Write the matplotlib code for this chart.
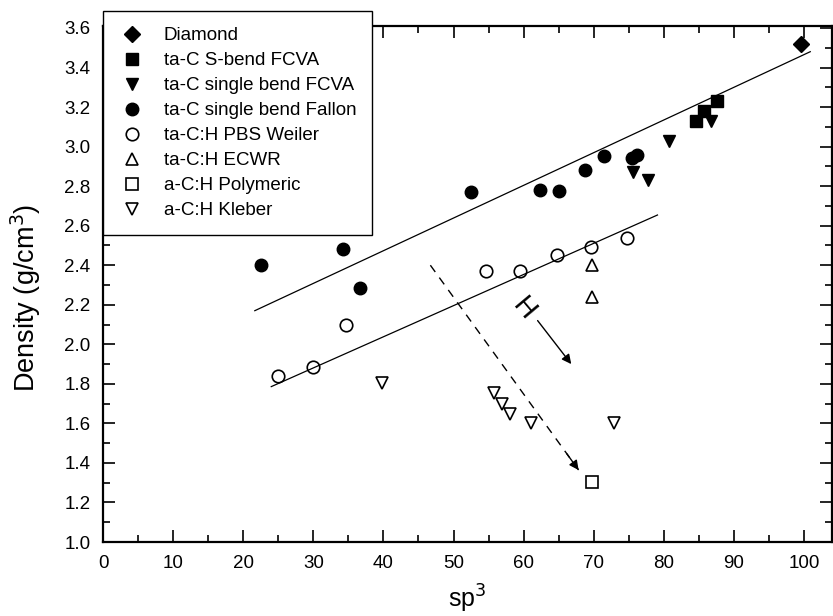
import matplotlib
matplotlib.use("Agg")
import matplotlib.pyplot as plt
from matplotlib.ticker import MultipleLocator

plt.rcParams['font.family'] = ['Liberation Sans', 'DejaVu Sans']

# density vs sp3 fraction for the different carbon film families
diamond_x = [99.6]
diamond_y = [3.52]

sbend_x = [87.6, 85.7, 84.6]
sbend_y = [3.23, 3.18, 3.13]

single_fcva_x = [86.7, 80.7, 75.6, 77.7]
single_fcva_y = [3.13, 3.03, 2.87, 2.83]

fallon_x = [22.5, 34.3, 36.7, 52.5, 62.3, 65.0, 68.7, 71.5, 75.4, 76.2]
fallon_y = [2.40, 2.48, 2.285, 2.77, 2.78, 2.775, 2.88, 2.95, 2.94, 2.96]

weiler_x = [24.9, 30.0, 34.7, 54.6, 59.5, 64.7, 69.6, 74.7]
weiler_y = [1.84, 1.887, 2.10, 2.37, 2.37, 2.45, 2.49, 2.54]

ecwr_x = [69.8, 69.7]
ecwr_y = [2.40, 2.24]

polymeric_x = [69.8]
polymeric_y = [1.305]

kleber_x = [39.8, 55.8, 56.9, 58.0, 61.0, 72.9]
kleber_y = [1.806, 1.755, 1.70, 1.65, 1.60, 1.60]

# guide lines
upper_fit_x = [21.65, 100.9]
upper_fit_y = [2.17, 3.48]
lower_fit_x = [24.0, 79.1]
lower_fit_y = [1.786, 2.654]

# hydrogen trend arrows
dash_arrow_x = [46.7, 67.85]
dash_arrow_y = [2.40, 1.364]
h_arrow_x = [62.0, 66.8]
h_arrow_y = [2.12, 1.90]
h_label_pos = (60.0, 2.18)

fig = plt.figure(figsize=(8.33, 6.16), dpi=100)
ax = fig.add_axes([0.1237, 0.1201, 0.8751, 0.8377])

ms = 9
mew = 1.2
ax.plot(diamond_x, diamond_y, 'D', color='black', ms=8, ls='', label='Diamond')
ax.plot(sbend_x, sbend_y, 's', color='black', ms=ms, ls='', label='ta-C S-bend FCVA')
ax.plot(single_fcva_x, single_fcva_y, 'v', color='black', ms=ms, ls='', label='ta-C single bend FCVA')
ax.plot(fallon_x, fallon_y, 'o', color='black', ms=ms, ls='', label='ta-C single bend Fallon')
ax.plot(weiler_x, weiler_y, 'o', mfc='none', mec='black', mew=mew, ms=ms, ls='', label='ta-C:H PBS Weiler')
ax.plot(ecwr_x, ecwr_y, '^', mfc='none', mec='black', mew=mew, ms=ms, ls='', label='ta-C:H ECWR')
ax.plot(polymeric_x, polymeric_y, 's', mfc='none', mec='black', mew=mew, ms=8, ls='', label='a-C:H Polymeric')
ax.plot(kleber_x, kleber_y, 'v', mfc='none', mec='black', mew=mew, ms=ms, ls='', label='a-C:H Kleber')

ax.plot(upper_fit_x, upper_fit_y, '-', color='black', lw=0.9)
ax.plot(lower_fit_x, lower_fit_y, '-', color='black', lw=0.9)

# dashed trend line with a solid head at its end
ax.plot(dash_arrow_x, dash_arrow_y, '--', color='black', lw=1.0, dashes=(6, 5))
fx = dash_arrow_x[1] - 0.08 * (dash_arrow_x[1] - dash_arrow_x[0])
fy = dash_arrow_y[1] - 0.08 * (dash_arrow_y[1] - dash_arrow_y[0])
ax.annotate('', xy=(dash_arrow_x[1], dash_arrow_y[1]), xytext=(fx, fy),
            arrowprops=dict(arrowstyle='-|>', color='black', lw=1.0,
                            mutation_scale=14, shrinkA=0, shrinkB=0))

ax.annotate('', xy=(h_arrow_x[1], h_arrow_y[1]), xytext=(h_arrow_x[0], h_arrow_y[0]),
            arrowprops=dict(arrowstyle='-|>', color='black', lw=1.0,
                            mutation_scale=14, shrinkA=0, shrinkB=0))
ax.text(h_label_pos[0], h_label_pos[1], 'H', rotation=-50, fontsize=20,
        ha='center', va='center')

ax.set_xlim(0, 104)
ax.set_ylim(1.0, 3.61)
ax.xaxis.set_major_locator(MultipleLocator(10))
ax.xaxis.set_minor_locator(MultipleLocator(5))
ax.yaxis.set_major_locator(MultipleLocator(0.2))
ax.yaxis.set_minor_locator(MultipleLocator(0.1))
ax.yaxis.set_major_formatter(plt.FormatStrFormatter('%.1f'))

ax.tick_params(which='both', direction='in', top=True, right=True,
               labelsize=13.5, pad=9, width=1.2)
ax.tick_params(which='major', length=8.5)
ax.tick_params(which='minor', length=5)
for sp in ax.spines.values():
    sp.set_linewidth(1.6)

ax.set_xlabel('sp$^3$', fontsize=18, labelpad=8)
ax.set_ylabel('Density (g/cm$^3$)', fontsize=19.5)
ax.yaxis.set_label_coords(-0.082, 0.473)

leg = ax.legend(loc='upper left', bbox_to_anchor=(0, 0.5, 0.369, 0.529),
                mode='expand', borderaxespad=0, fontsize=13.5,
                frameon=True, fancybox=False, framealpha=1, edgecolor='black',
                handlelength=1.4, handletextpad=1.0, labelspacing=0.42,
                borderpad=0.85, numpoints=1)
leg.get_frame().set_linewidth(1.0)

fig.savefig('out.png', dpi=100)
